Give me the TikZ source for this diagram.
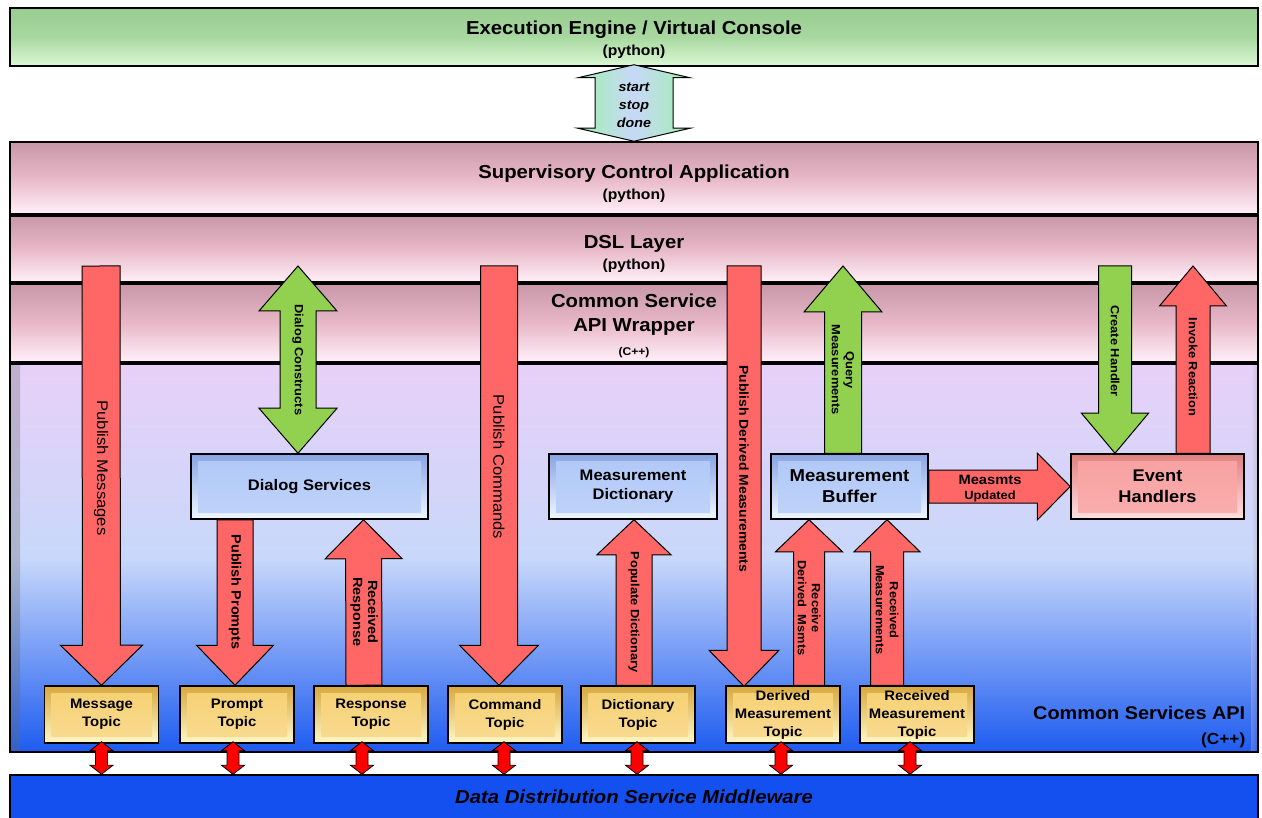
\documentclass[tikz,border=0pt]{standalone}
\usepackage{fontspec}
\setmainfont{Liberation Sans}[FakeStretch=1.08]
\usetikzlibrary{calc}

\definecolor{engtop}{HTML}{98CC90}
\definecolor{engmid}{HTML}{A8D8A0}
\definecolor{engbot}{HTML}{DCF8D4}
\definecolor{laytop}{HTML}{C898A8}
\definecolor{laymid}{HTML}{E8B8C8}
\definecolor{laybot}{HTML}{FFF0F8}
\definecolor{apitop}{HTML}{E8D0F8}
\definecolor{apimid}{HTML}{C8D8FA}
\definecolor{apibot}{HTML}{1E5CF0}
\definecolor{ddsblue}{HTML}{1450F0}
\definecolor{svctop}{HTML}{88A4E4}
\definecolor{svcface}{HTML}{B0C8F8}
\definecolor{svcbot}{HTML}{F0F8FF}
\definecolor{evtop}{HTML}{E08080}
\definecolor{evface}{HTML}{F8A0A0}
\definecolor{evbot}{HTML}{FFE0E0}
\definecolor{toptop}{HTML}{D8A840}
\definecolor{topface}{HTML}{F6D070}
\definecolor{topbot}{HTML}{FFF8C8}
\definecolor{arrred}{HTML}{FF6666}
\definecolor{arrgreen}{HTML}{92D050}
\definecolor{ctlgreen}{HTML}{A0F0B0}
\definecolor{ctlblue}{HTML}{C8D8F8}

\begin{document}
\begin{tikzpicture}
	[x=1pt,y=-1pt,line width=1.5pt,
		arrsize/.code args={#1/#2/#3}{\def\arrS{#1}\def\arrH{#2}\def\arrL{#3}},
		blockarr/.style={to path={let \p1=(\tikztostart),\p2=(\tikztotarget),\n1={veclen(\x2-\x1,\y2-\y1)},\n2={atan2(\y2-\y1,\x2-\x1)} in
			{[shift={(\p1)},rotate=\n2,x=1pt,y=1pt] (0,\arrS) -- (\n1-\arrL,\arrS) -- (\n1-\arrL,\arrH) -- (\n1,0) -- (\n1-\arrL,-\arrH) -- (\n1-\arrL,-\arrS) -- (0,-\arrS) -- cycle}}},
		dblarr/.style={to path={let \p1=(\tikztostart),\p2=(\tikztotarget),\n1={veclen(\x2-\x1,\y2-\y1)},\n2={atan2(\y2-\y1,\x2-\x1)} in
			{[shift={(\p1)},rotate=\n2,x=1pt,y=1pt] (0,0) -- (\arrL,\arrH) -- (\arrL,\arrS) -- (\n1-\arrL,\arrS) -- (\n1-\arrL,\arrH) -- (\n1,0) -- (\n1-\arrL,-\arrH) -- (\n1-\arrL,-\arrS) -- (\arrL,-\arrS) -- (\arrL,-\arrH) -- cycle}}},
		redarr/.style={blockarr,draw=black,fill=arrred,line width=1pt},
		greenarr/.style={blockarr,draw=black,fill=arrgreen,line width=1pt},
		bevel/.style 2 args={path picture={\shade[top color=#1,bottom color=#2] ([shift={(7pt,-7pt)}]path picture bounding box.north west) rectangle ([shift={(-7pt,7pt)}]path picture bounding box.south east);}},
		layer/.style={draw=black,minimum width=1248pt,inner sep=0pt},
		englayer/.style={layer,top color=engtop,bottom color=engbot,middle color=engmid},
		pinklayer/.style={layer,top color=laytop,bottom color=laybot,middle color=laymid},
		title/.style={align=center,inner sep=0pt,font=\fontsize{18.8}{21}\selectfont\bfseries},
		svc/.style={draw=black,minimum height=65pt,inner sep=0pt,align=center,top color=svctop,bottom color=svcbot,bevel={svcface}{svcface!80!white},font=\fontsize{15.3}{19}\selectfont\bfseries},
		handler/.style={svc,top color=evtop,bottom color=evbot,bevel={evface}{evface!85!white}},
		topic/.style={draw=black,minimum width=114pt,minimum height=57pt,inner sep=0pt,align=center,top color=toptop,bottom color=topbot,bevel={topface}{topface!75!white},font=\fontsize{13.8}{18}\selectfont\bfseries},
		lbl/.style={rotate=-90,inner sep=0pt,align=center,font=\fontsize{11.9}{14}\selectfont\bfseries},
		biglbl/.style={rotate=-90,inner sep=0pt,align=center,font=\fontsize{15.4}{17}\selectfont}]

	\path[use as bounding box,clip] (0,0) rectangle (1262,818);

	% layers
	\node[englayer,minimum height=58pt] (eng) at (634,37) {};
	\node[pinklayer,minimum height=72pt] (sup) at (634,178) {};
	\node[pinklayer,minimum height=66pt] (dsl) at (634,249) {};
	\node[pinklayer,minimum height=78pt] (wrap) at (634,323) {};
	\node[layer,minimum height=388pt,top color=apitop,bottom color=apibot,middle color=apimid,
		path picture={\shade[left color=black!60,right color=apitop,opacity=0.3] (path picture bounding box.north west) rectangle ([xshift=10pt]path picture bounding box.south west);
			\shade[right color=black!50,left color=apitop,opacity=0.25] ([xshift=-7pt]path picture bounding box.north east) rectangle (path picture bounding box.south east);}] (api) at (634,558) {};
	\node[layer,minimum height=44pt,fill=ddsblue,font=\fontsize{18.8}{21}\selectfont\bfseries\itshape] (dds) at (634,797) {Data Distribution Service Middleware};

	\node[title] (engL) at (634,40) {Execution Engine / Virtual Console\\{\fontsize{14.5}{16}\selectfont (python)}};
	\node[title] (supL) at (634,184) {Supervisory Control Application\\{\fontsize{14.5}{16}\selectfont (python)}};
	\node[title] (dslL) at (634,253.5) {DSL Layer\\{\fontsize{14.5}{16}\selectfont (python)}};
	\node[title,font=\fontsize{18.8}{24}\selectfont\bfseries] (wrapL) at (634,326) {Common Service\\API Wrapper\\{\fontsize{11.2}{12}\selectfont (C++)}};
	\node[anchor=north east,align=right,inner sep=0pt,font=\fontsize{18.4}{25}\selectfont\bfseries] (apiL) at (1246,705) {Common Services API\\{\fontsize{16}{18}\selectfont (C++)}};

	% service boxes
	\node[svc,minimum width=237pt] (dlg) at (309.5,486.5) {Dialog Services};
	\node[svc,minimum width=168pt] (mdict) at (633,486.5) {Measurement\\Dictionary};
	\node[svc,minimum width=157pt,font=\fontsize{17.2}{21}\selectfont\bfseries] (mbuf) at (849.5,486.5) {Measurement\\Buffer};
	\node[handler,minimum width=173pt,font=\fontsize{16.9}{21}\selectfont\bfseries] (evh) at (1157.5,486.5) {Event\\Handlers};

	% topics
	\foreach \nm/\x/\txt in {msgT/101.5/{Message\\Topic},prmT/237/{Prompt\\Topic},rspT/371/{Response\\Topic},cmdT/505/{Command\\Topic},dicT/638/{Dictionary\\Topic},dmT/783/{Derived\\Measurement\\Topic},rmT/917/{Received\\Measurement\\Topic}}
		\node[topic] (\nm) at (\x,714.5) {\txt};

	\foreach \nm/\dx in {msgT/0,prmT/-4,rspT/-9,cmdT/-1,dicT/-1,dmT/-2,rmT/-7}
		\draw[dblarr,arrsize=6/11.5/9,draw=black,fill=red,line width=0.8pt] ($(\nm.south)+(\dx,-2)$) to ($(\nm.south |- dds.north)+(\dx,0)$);

	% start / stop / done
	\draw[dblarr,arrsize=39/56/13,draw=black,line width=1pt,left color=ctlgreen,right color=ctlgreen,middle color=ctlblue] ($(eng.south)+(0,-2)$) to (sup.north);
	\node[align=center,inner sep=0pt,font=\fontsize{13.2}{18}\selectfont\bfseries\itshape] (ctl) at (634,105) {start\\stop\\done};

	% arrows from the upper layers
	\coordinate (pmTop) at (101,266);
	\coordinate (dcTop) at (298,266);
	\coordinate (pcTop) at (499,266);
	\coordinate (pdTop) at (744,266);
	\coordinate (qmTop) at (843,266);
	\coordinate (chTop) at (1115,266);
	\coordinate (irTop) at (1193,266);

	\draw[redarr,arrsize=19/41/40] (pmTop) to (msgT.north);
	\draw[dblarr,draw=black,fill=arrgreen,line width=1pt,arrsize=18/39/45] (dcTop) to ($(dlg.north)+(-11.5,0)$);
	\draw[redarr,arrsize=18.5/39.5/40] (pcTop) to ($(cmdT.north)+(-6,0)$);
	\draw[redarr,arrsize=17/35/36] (pdTop) to ($(dmT.north)+(-39,1)$);
	\draw[greenarr,arrsize=18.5/39/46] ($(mbuf.north)+(-6.5,0)$) to (qmTop);
	\draw[greenarr,arrsize=16.5/33.5/40] (chTop) to ($(evh.north)+(-42.5,0)$);
	\draw[redarr,arrsize=17/33.5/40] ($(evh.north)+(35.5,0)$) to (irTop);

	% arrows between boxes and topics
	\draw[redarr,arrsize=18/38.5/40] ($(dlg.south)+(-74.5,0)$) to ($(prmT.north)+(-2,0)$);
	\draw[redarr,arrsize=18/38.5/39] ($(rspT.north)+(-7,0)$) to ($(dlg.south)+(54,0)$);
	\draw[redarr,arrsize=18/37/35] ($(dicT.north)+(-4,0)$) to ($(mdict.south)+(1,0)$);
	\draw[redarr,arrsize=15.5/33.5/32] ($(dmT.north)+(26,0)$) to ($(mbuf.south)+(-40.5,0)$);
	\draw[redarr,arrsize=16.5/33/32] ($(rmT.north)+(-30,0)$) to ($(mbuf.south)+(37.5,0)$);
	\draw[redarr,arrsize=16.5/33.5/33] (mbuf.east) to (evh.west);

	% labels
	\node[biglbl] (pmL) at (101,468) {Publish Messages};
	\node[lbl] (dcL) at (298,360) {Dialog Constructs};
	\node[biglbl] (pcL) at (499,467) {Publish Commands};
	\node[lbl,font=\fontsize{12.9}{14}\selectfont\bfseries] (pdL) at (744,469) {Publish Derived Measurements};
	\node[lbl] (qmL) at (843,370) {Query\\Measurements};
	\node[lbl] (chL) at (1115,351) {Create Handler};
	\node[lbl] (irL) at (1193,367) {Invoke Reaction};
	\node[lbl,font=\fontsize{13.4}{15}\selectfont\bfseries] (ppL) at (235,592) {Publish Prompts};
	\node[lbl,font=\fontsize{13.4}{15}\selectfont\bfseries] (rrL) at (364,612) {Received\\Response};
	\node[lbl] (pdcL) at (634,612) {Populate Dictionary};
	\node[lbl] (rdL) at (809,608) {Receive\\Derived~~Msmts};
	\node[lbl] (rmL) at (887,610) {Received\\Measurements};
	\node[align=center,inner sep=0pt,font=\fontsize{13.6}{15}\selectfont\bfseries] (muL) at (990,489) {Measmts\\{\fontsize{11.9}{13}\selectfont Updated}};

\end{tikzpicture}
\end{document}
